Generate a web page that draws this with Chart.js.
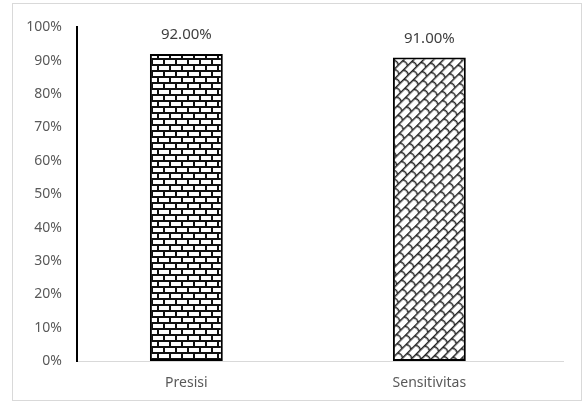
<!DOCTYPE html>
<html>
<head>
<meta charset="utf-8">
<script src="https://cdn.jsdelivr.net/npm/chart.js@4.4.1/dist/chart.umd.min.js"></script>
<style>
    html, body { margin: 0; padding: 0; background: #fff; }
    #frame {
        position: absolute;
        left: 12px;
        top: 3px;
        width: 568px;
        height: 396px;
        border: 1px solid #d9d9d9;
    }
    #chart { display: block; }
</style>
</head>
<body>
<div id="frame">
    <canvas id="chart" width="568" height="396"></canvas>
</div>
<script>
// 데이터
const categories = ['Presisi', 'Sensitivitas'];
const values = [92.00, 91.00];
const yTicks = [0, 10, 20, 30, 40, 50, 60, 70, 80, 90, 100];

const FONT = '"Noto Sans", "Open Sans", sans-serif';

// 패턴 타일 생성
function makePattern(w, h, draw, angle) {
    const tile = document.createElement('canvas');
    tile.width = w;
    tile.height = h;
    const t = tile.getContext('2d');
    t.fillStyle = '#fff';
    t.fillRect(0, 0, w, h);
    t.fillStyle = '#111';
    t.strokeStyle = '#222';
    draw(t);
    const pattern = document.getElementById('chart').getContext('2d').createPattern(tile, 'repeat');
    if (angle && pattern.setTransform) {
        pattern.setTransform(new DOMMatrix().rotate(angle));
    }
    return pattern;
}

// 벽돌 무늬
const brick = makePattern(24, 12, t => {
    t.fillRect(0, 0, 24, 2);
    t.fillRect(0, 6, 24, 2);
    t.fillRect(0, 0, 2, 6);
    t.fillRect(12, 0, 2, 6);
    t.fillRect(6, 6, 2, 6);
    t.fillRect(18, 6, 2, 6);
});

// 비늘 무늬 (기울어진 짧은 벽돌 + 곡선)
const shingle = makePattern(12, 14, t => {
    t.lineWidth = 1.4;
    t.beginPath();
    t.moveTo(0, 0.7); t.lineTo(12, 0.7);
    t.moveTo(0, 7.7); t.lineTo(12, 7.7);
    t.moveTo(1, 0.7); t.quadraticCurveTo(4, 4.2, 1, 7.7);
    t.moveTo(7, 7.7); t.quadraticCurveTo(10, 11.2, 7, 14.7);
    t.moveTo(7, -6.3); t.quadraticCurveTo(10, -2.8, 7, 0.7);
    t.stroke();
}, -45);

// 막대 위 값 표시
const valueLabels = {
    id: 'valueLabels',
    afterDatasetsDraw(chart) {
        const ctx = chart.ctx;
        const meta = chart.getDatasetMeta(0);
        ctx.save();
        ctx.font = '15px ' + FONT;
        ctx.fillStyle = '#404040';
        ctx.textAlign = 'center';
        ctx.textBaseline = 'middle';
        meta.data.forEach((bar, i) => {
            ctx.fillText(values[i].toFixed(2) + '%', bar.x, bar.y - 19);
        });
        ctx.restore();
    }
};

new Chart(document.getElementById('chart'), {
    type: 'bar',
    data: {
        datasets: [{
            data: values.map((v, i) => ({ x: i, y: v })),
            backgroundColor: [brick, shingle],
            borderColor: '#000',
            borderWidth: 2,
            borderSkipped: false,
            barPercentage: 0.3,
            categoryPercentage: 1
        }]
    },
    options: {
        responsive: false,
        animation: false,
        events: [],
        layout: { padding: { top: 21, right: 18, left: 0, bottom: 0 } },
        plugins: {
            legend: { display: false },
            tooltip: { enabled: false }
        },
        scales: {
            x: {
                type: 'linear',
                offset: false,
                min: -0.45,
                max: 1.55,
                afterBuildTicks(scale) {
                    scale.ticks = categories.map((c, i) => ({ value: i }));
                },
                afterFit(scale) { scale.height = 39; },
                grid: { display: false, drawTicks: false },
                border: { color: '#d9d9d9', width: 1 },
                ticks: {
                    padding: 14,
                    color: '#595959',
                    font: { family: FONT, size: 14 },
                    callback: v => categories[v]
                }
            },
            y: {
                min: 0,
                max: 100,
                afterBuildTicks(scale) {
                    scale.ticks = yTicks.map(v => ({ value: v }));
                },
                afterFit(scale) { scale.width = 64; },
                grid: { display: false, drawTicks: false },
                border: { color: '#000', width: 2 },
                ticks: {
                    padding: 15,
                    color: '#595959',
                    font: { family: FONT, size: 14 },
                    callback: v => v + '%'
                }
            }
        }
    },
    plugins: [valueLabels]
});
</script>
</body>
</html>
